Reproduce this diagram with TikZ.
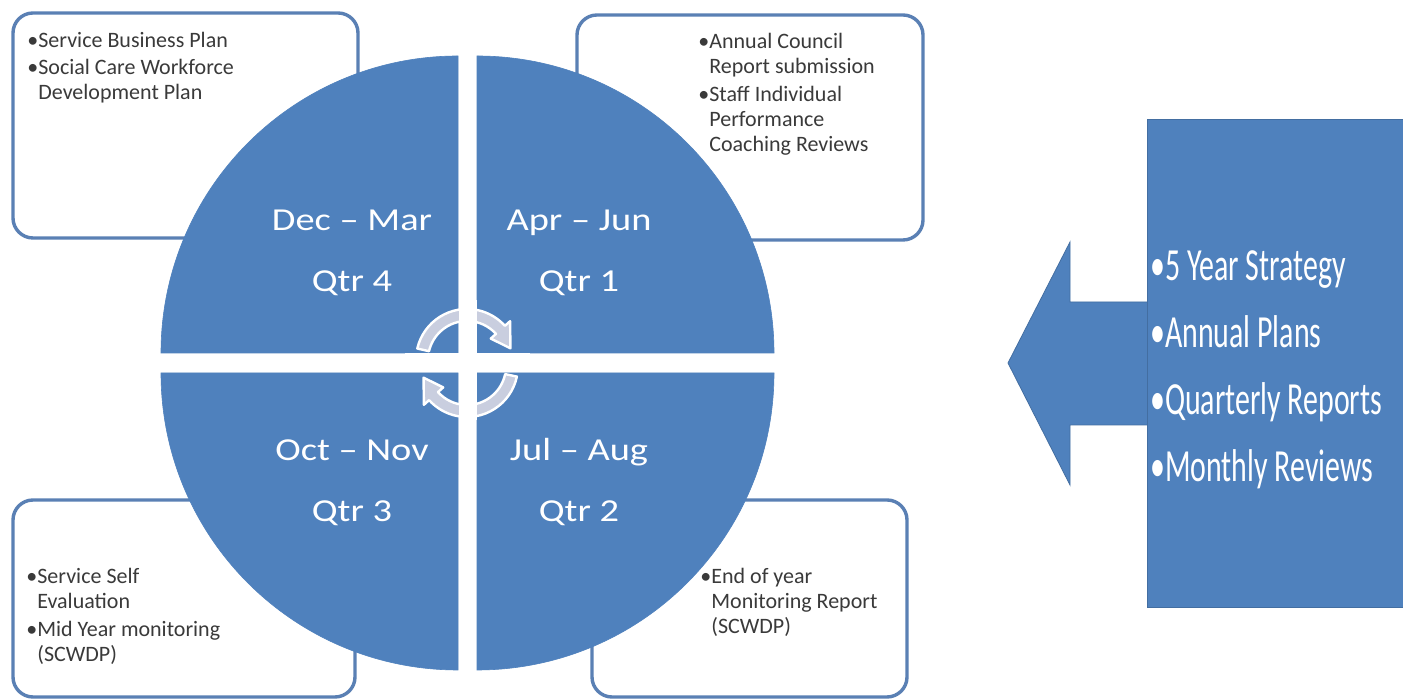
\documentclass[tikz,border=0pt]{standalone}
\usepackage{fontspec}
\setmainfont{Carlito}
\definecolor{qblue}{HTML}{4F81BD}
\definecolor{boxline}{HTML}{5A80B4}
\definecolor{cyc}{HTML}{C9CEDF}
\definecolor{boxtext}{HTML}{3A3A3A}
\tikzset{
  notebox/.style={draw=boxline, line width=1.7pt, rounded corners=10pt, fill=white},
  quad/.style={fill=qblue, draw=qblue, line width=0.3pt},
  notetext/.style={anchor=base west, align=left, inner sep=0pt, text=boxtext,
    font=\fontsize{11}{12.6}\selectfont},
  qlabel/.style={anchor=base, align=center, inner sep=0pt, text=white,
    xscale=1.2, transform shape, font=\fontsize{16}{30.8}\selectfont},
  bigtext/.style={anchor=base west, align=left, inner sep=0pt, text=white,
    xscale=0.65, transform shape, font=\fontsize{23}{33.6}\selectfont},
  cycarrow/.style={fill=cyc, draw=white, line width=1.2pt, line join=round},
  gapbar/.style={fill=white, draw=none},
  blueshape/.style={fill=qblue, draw=qblue!85!black, line width=0.4pt}
}
\newcommand{\hb}{\hphantom{\textbullet}}
\begin{document}
\begin{tikzpicture}[x=0.5pt,y=0.5pt]
\useasboundingbox (0,0) rectangle (1403,700);
\fill[white] (0,0) rectangle (1403,700);

% note boxes (behind the circle)
\draw[notebox] (13,687) rectangle (358,462);
\draw[notebox] (577,685) rectangle (923,460);
\draw[notebox] (13,200) rectangle (355,3);
\draw[notebox] (592,200) rectangle (907,3);

% exploded circle quadrants
\path[quad] (458,347) -- ++(-297,0) arc[start angle=180, end angle=90, radius=297] -- cycle;
\path[quad] (477,347) -- ++(0,297) arc[start angle=90, end angle=0, radius=297] -- cycle;
\path[quad] (458,327) -- ++(0,-297) arc[start angle=270, end angle=180, radius=297] -- cycle;
\path[quad] (477,327) -- ++(297,0) arc[start angle=0, end angle=-90, radius=297] -- cycle;

% circular arrows
\begin{scope}[shift={(467,340)}]
\path[cycarrow] (167:51) arc[start angle=167, end angle=42, radius=51]
  -- (42:58) -- (15:45) -- (42:32) -- (42:39)
  arc[start angle=42, end angle=167, radius=39] -- cycle;
\end{scope}
\begin{scope}[shift={(467,334)}]
\path[cycarrow] (-12:51) arc[start angle=-12, end angle=-138, radius=51]
  -- (-138:58) -- (-165:45) -- (-138:32) -- (-138:39)
  arc[start angle=-138, end angle=-12, radius=39] -- cycle;
\end{scope}
\path[gapbar] (458.5,280) rectangle (476.5,400);
\path[gapbar] (405,327.5) rectangle (530,346.5);

% quadrant labels (anchor = baseline of the last line)
\begin{scope}[shift={(352,408)}]
\node[qlabel] (q4) at (0,0) {Dec – Mar\\Qtr 4};
\end{scope}
\begin{scope}[shift={(579,408)}]
\node[qlabel] (q1) at (0,0) {Apr – Jun\\Qtr 1};
\end{scope}
\begin{scope}[shift={(352,178)}]
\node[qlabel] (q3) at (0,0) {Oct – Nov\\Qtr 3};
\end{scope}
\begin{scope}[shift={(579,178)}]
\node[qlabel] (q2) at (0,0) {Jul – Aug\\Qtr 2};
\end{scope}

% note texts (anchor = baseline of the last line)
\node[notetext] (ntl) at (27,600) {\textbullet Service Business Plan\\[1pt]
  \textbullet Social Care Workforce\\ \hb Development Plan};
\node[notetext] (ntr) at (698,548) {\textbullet Annual Council\\ \hb Report submission\\[1.5pt]
  \textbullet Staff Individual\\ \hb Performance\\ \hb Coaching Reviews};
\node[notetext] (nbl) at (26,38) {\textbullet Service Self\\ \hb Evaluation\\[1.5pt]
  \textbullet Mid Year monitoring\\ \hb (SCWDP)};
\node[notetext] (nbr) at (700,66) {\textbullet End of year\\ \hb Monitoring Report\\ \hb (SCWDP)};

% right: big block arrow and strategy box
\path[blueshape] (1008,337) -- (1070,458) -- (1070,398) -- (1150,398)
  -- (1150,275) -- (1070,275) -- (1070,215) -- cycle;
\path[blueshape] (1147,581) rectangle (1403,93);
\begin{scope}[shift={(1150,218)}]
\node[bigtext] (strat) at (0,0) {\textbullet 5 Year Strategy\\ \textbullet Annual Plans\\
  \textbullet Quarterly Reports\\ \textbullet Monthly Reviews};
\end{scope}
\end{tikzpicture}
\end{document}
